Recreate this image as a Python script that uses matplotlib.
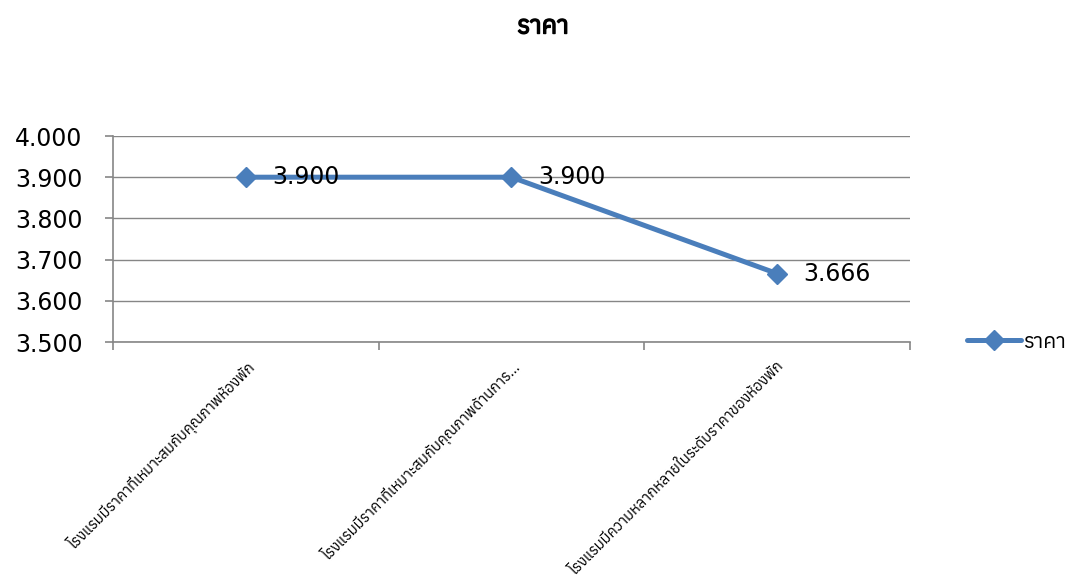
import matplotlib
matplotlib.use("Agg")
import matplotlib.pyplot as plt
from matplotlib import font_manager
from matplotlib import patheffects
from matplotlib.ft2font import FT2Font

# Data
title = "ราคา"
series_name = "ราคา"
categories = [
    "โรงแรมมีราคาที่เหมาะสมกับคุณภาพห้องพัก",
    "โรงแรมมีราคาที่เหมาะสมกับคุณภาพด้านการ...",
    "โรงแรมมีความหลากหลายในระดับราคาของห้องพัก",
]
values = [3.900, 3.900, 3.666]
y_ticks = [3.5, 3.6, 3.7, 3.8, 3.9, 4.0]


def find_thai_family():
    found = []
    for f in font_manager.fontManager.ttflist:
        try:
            ft = FT2Font(f.fname)
            if ft.get_char_index(0x0E23) and ft.get_char_index(0x0E32):
                found.append(f.name)
        except Exception:
            pass
    return sorted(set(found))


thai_fams = find_thai_family()
families = thai_fams[:1] + ["DejaVu Sans"]
plt.rcParams["font.family"] = families

LINE = "#4A7EBB"
GRID = "#868686"

fig = plt.figure(figsize=(10.67, 5.85), dpi=100)
ax = fig.add_axes([113 / 1067, 1 - 342 / 585, 797 / 1067, 206 / 585])

x = list(range(len(categories)))
ax.plot(x, values, color=LINE, lw=3.6, marker="D", markersize=10.5,
        markerfacecolor=LINE, markeredgecolor=LINE, label=series_name,
        solid_capstyle="round", zorder=3)
for xi, v in zip(x, values):
    ax.annotate(f"{v:.3f}", (xi, v), xytext=(19, 0), textcoords="offset points",
                ha="left", va="center", fontsize=17, family="DejaVu Sans", zorder=4)

ax.set_xlim(-0.5, 2.5)
ax.set_ylim(3.5, 4.0)
ax.set_yticks(y_ticks)
ax.set_yticklabels([f"{t:.3f}" for t in y_ticks], fontsize=17, family="DejaVu Sans")
ax.yaxis.grid(True, color=GRID, lw=1)
ax.set_axisbelow(True)

ax.set_xticks(x)
ax.set_xticklabels(categories, rotation=45, ha="right", va="top",
                   rotation_mode="anchor", fontsize=10.6)
ax.tick_params(axis="x", which="major", length=0, pad=12)
ax.set_xticks([-0.5, 0.5, 1.5, 2.5], minor=True)
ax.tick_params(axis="x", which="minor", length=6, color=GRID, width=1.2, direction="out")
ax.tick_params(axis="y", length=6, color=GRID, width=1.2, direction="out", pad=16)

for s in ["top", "right"]:
    ax.spines[s].set_visible(False)
for s in ["left", "bottom"]:
    ax.spines[s].set_color(GRID)
    ax.spines[s].set_linewidth(1.2)

fig.text(543 / 1067, 1 - 27 / 585, title, ha="center", va="center",
         fontsize=18, fontweight="bold",
         path_effects=[patheffects.withStroke(linewidth=1.0, foreground="black")])

leg = fig.legend(loc="center left", bbox_to_anchor=(948 / 1067, 1 - 342 / 585),
                 frameon=False, fontsize=15, handlelength=2.6, handletextpad=0.1)

fig.savefig("out.png", dpi=100)
